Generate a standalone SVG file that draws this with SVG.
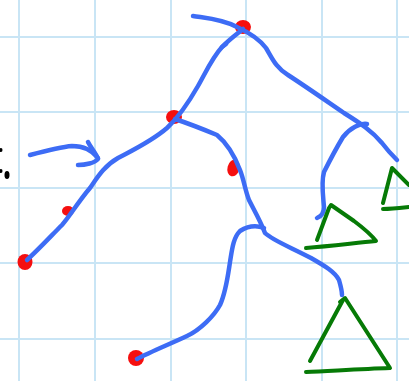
<svg xmlns="http://www.w3.org/2000/svg" width="409" height="381" viewBox="0 0 409 381">
<style>
.grid{stroke:#c9e5f5;stroke-width:2;fill:none}
.blue{stroke:#3d6cf5;stroke-width:4.5;fill:none;stroke-linecap:round;stroke-linejoin:round}
.green{stroke:#067a06;stroke-width:4;fill:none;stroke-linecap:round;stroke-linejoin:round}
.red{fill:#f50f0f}
.ink{fill:#000}
</style>
<rect width="409" height="381" fill="#fff"/>
<g id="grid" class="grid">
<path d="M19,0V381M95,0V381M171,0V381M246,0V381M322,0V381M397,0V381"/>
<path d="M0,37H409M0,112H409M0,188H409M0,263H409M0,339H409"/>
</g>
<g id="node-top" class="red"><ellipse cx="243" cy="27" rx="8" ry="7"/></g>
<g id="node-mid" class="red"><ellipse cx="174" cy="117" rx="8" ry="7"/></g>
<g id="node-right" class="red"><ellipse cx="233.5" cy="168" rx="6" ry="8.5" transform="rotate(15 233.5 168)"/></g>
<g id="node-small" class="red"><ellipse cx="68" cy="211" rx="6" ry="5"/></g>
<g id="node-left" class="red"><ellipse cx="25" cy="262" rx="7.5" ry="8"/></g>
<g id="node-bottom" class="red"><ellipse cx="136" cy="358" rx="8" ry="8"/></g>
<g id="connectors">
<path class="blue" d="M193,16 C205,18 222,19 237,27 C250,33 260,40 266,48 C272,58 276,68 288,75 C305,86 325,100 344,113 C360,123 372,131 382,143 C388,151 392,155 397,160"/>
<path class="blue" d="M27,260 C38,250 52,235 62,225 C70,216 78,202 90,188 C97,178 104,166 118,158 C135,149 152,141 167,128 C180,116 190,100 198,86 C206,72 212,58 222,47 C230,39 237,34 243,29"/>
<path class="blue" d="M222,47 L226,44"/>
<path class="blue" d="M175,119 C190,124 205,130 217,135 C228,144 235,157 240,170 C244,180 245,190 249,200 C254,210 260,220 265,233 C272,240 290,247 311,258 C325,266 335,272 339,280 C341,287 342,292 342,295"/>
<path class="blue" d="M137,359 C150,352 170,344 187,336 C200,330 214,316 220,305 C226,292 228,275 230,262 C232,250 233,238 240,231 C248,226 256,225 264,228"/>
<path class="blue" d="M367,124 C360,123 350,128 343,137 C337,147 330,160 324,172 C321,182 323,195 324,207 C324,213 322,216 317,218"/>
<path class="blue" d="M30,155 C45,151 60,147 72,146 C82,146 92,150 98,158"/>
<path class="blue" d="M88,142 C91,148 96,153 98,159 C95,163 85,165 78,165"/>
</g>
<g id="triangle-1" class="green">
<path d="M317,240 L329,208 L331,205 L354,221 C362,227 370,233 376,241 C355,243 330,246 306,248"/>
</g>
<g id="triangle-2" class="green">
<path d="M383,203 L392,168 L409,185"/>
<path d="M383,209 C392,209 400,208 409,207"/>
</g>
<g id="triangle-3" class="green">
<path d="M310,361 L343,300 M340,302 L345,298 L390,368 C360,369 330,371 306,372"/>
</g>
<g id="marks" class="ink">
<ellipse cx="7" cy="175" rx="2.5" ry="4"/>
<ellipse cx="1" cy="150" rx="1.5" ry="2"/>
<ellipse cx="1" cy="171" rx="1.5" ry="2"/>
</g>
</svg>
